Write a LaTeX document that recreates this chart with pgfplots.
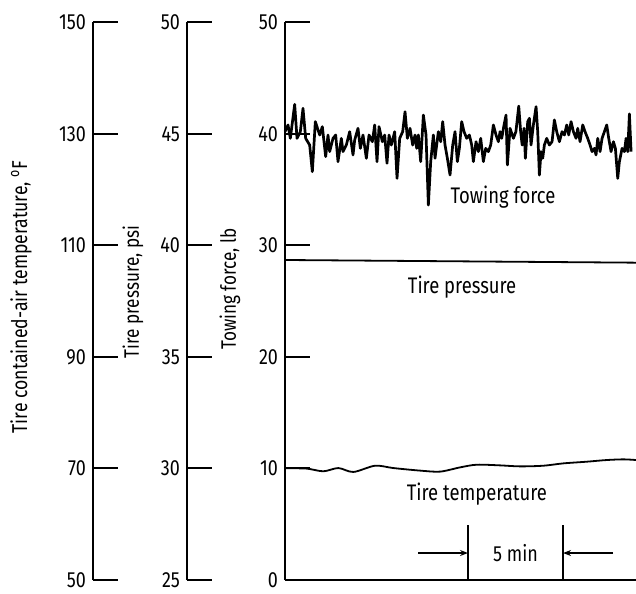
\documentclass[border=0pt]{standalone}
\usepackage{fontspec}
\setmainfont{Fira Sans}[FakeStretch=0.82]
\usepackage{pgfplots}
\pgfplotsset{compat=1.18}
\usetikzlibrary{arrows.meta}

\pgfplotsset{
  scalecol/.style={
    scale only axis,
    height=278.75bp,
    axis y line=left,
    axis line style={-, line width=1.2bp},
    ytick align=inside,
    major tick length=12.5bp,
    every tick/.style={black, line width=1bp},
    yticklabel style={font=\fontsize{11}{11}\selectfont},
    /pgf/number format/assume math mode=true,
    anchor=south west,
  },
}

\begin{document}
\begin{tikzpicture}
\useasboundingbox (0,0) rectangle (318bp,297bp);

% temperature scale
\begin{axis}[scalecol, at={(46.5bp,7bp)}, width=20bp, axis x line=none,
  xmin=0, xmax=1, ymin=50, ymax=150, ytick={50,70,...,150}]
\end{axis}

% pressure scale
\begin{axis}[scalecol, at={(93.5bp,7bp)}, width=20bp, axis x line=none,
  xmin=0, xmax=1, ymin=25, ymax=50, ytick={25,30,...,50}]
\end{axis}

% towing force scale with the traces (time in min)
\begin{axis}[scalecol, at={(142.5bp,7bp)}, width=175.5bp,
  axis x line=bottom, xtick=\empty,
  x axis line style={-}, y axis line style={-},
  xmin=0, xmax=18.47, ymin=0, ymax=50, ytick={0,10,...,50},
  clip=false]

% towing force, lb
\addplot[black, line width=1.35bp, line join=round] coordinates {
(0,40.21) (0.158,40.81) (0.281,39.61) (0.509,42.66) (0.632,39.61) (0.807,40.21)
(0.947,42.30) (1.088,39.61) (1.298,39.01) (1.439,36.62) (1.596,41.11) (1.825,39.91)
(1.965,40.66) (2.140,37.97) (2.263,39.91) (2.351,38.42) (2.526,39.61) (2.667,39.91)
(2.789,37.52) (2.965,39.61) (3.053,38.42) (3.228,39.01) (3.404,40.21) (3.579,38.12)
(3.667,39.46) (3.842,40.51) (3.965,38.71) (4.105,39.91) (4.281,37.82) (4.421,39.91)
(4.596,39.31) (4.719,40.81) (4.842,37.52) (4.947,40.66) (5.123,39.31) (5.246,39.91)
(5.368,37.37) (5.474,39.91) (5.596,39.01) (5.772,40.21) (5.895,36.02) (6.035,39.61)
(6.193,40.21) (6.316,42.00) (6.439,39.61) (6.579,40.51) (6.719,39.01) (6.842,39.91)
(6.930,38.71) (7.018,39.91) (7.140,37.52) (7.281,41.70) (7.421,39.91) (7.544,33.63)
(7.667,37.52) (7.807,39.91) (7.895,37.82) (8.070,40.21) (8.193,39.31) (8.298,41.11)
(8.421,39.01) (8.544,37.82) (8.684,36.32) (8.825,39.01) (8.947,40.21) (9.070,37.52)
(9.175,38.71) (9.298,41.11) (9.421,40.21) (9.561,39.61) (9.702,39.91) (9.825,39.01)
(9.912,37.52) (10.053,39.31) (10.175,38.42) (10.298,39.61) (10.439,37.52) (10.561,38.71)
(10.702,38.42) (10.825,39.01) (10.965,40.81) (11.105,39.91) (11.228,39.31) (11.316,40.21)
(11.404,39.61) (11.526,40.81) (11.632,41.70) (11.702,37.22) (11.842,40.51) (12.018,39.61)
(12.150,40.21) (12.300,42.50) (12.400,40.21) (12.480,39.01) (12.580,40.51) (12.649,37.82)
(12.772,41.11) (12.860,41.41) (12.947,39.01) (13.070,40.81) (13.211,42.45) (13.298,40.21)
(13.386,36.32) (13.474,38.42) (13.561,37.82) (13.649,39.01) (13.772,39.61) (13.912,39.01)
(14.053,39.31) (14.175,41.26) (14.298,40.21) (14.439,39.31) (14.579,40.21) (14.702,39.91)
(14.825,40.81) (14.930,39.91) (15.053,41.11) (15.175,40.21) (15.316,39.61) (15.404,40.51)
(15.526,39.31) (15.667,40.81) (15.789,40.21) (15.930,39.61) (16.053,39.01) (16.158,38.42)
(16.281,38.71) (16.368,38.12) (16.456,39.61) (16.579,38.42) (16.684,39.61) (16.807,40.21)
(16.930,40.81) (17.035,39.61) (17.158,38.42) (17.281,39.31) (17.386,38.71) (17.509,36.02)
(17.596,37.52) (17.737,38.71) (17.860,38.42) (17.947,39.61) (18.035,38.42) (18.123,41.80)
(18.211,38.42)
};

% tire pressure, plotted on the lb scale
\addplot[black, line width=0.9bp] coordinates {(0,28.70) (18.47,28.46)};

% tire temperature, plotted on the lb scale
\addplot[black, line width=0.9bp, smooth, tension=0.5] coordinates {
(0,10.02) (1.14,9.99) (2.02,9.75) (2.81,10.04) (3.60,9.69) (4.74,10.25)
(5.70,10.04) (7.11,9.81) (8.16,9.72) (9.21,10.10) (10.09,10.34) (11.32,10.28)
(12.37,10.19) (13.60,10.25) (14.65,10.46) (15.88,10.61) (16.93,10.76) (17.81,10.82)
(18.47,10.76)
};

\node[font=\fontsize{11.3}{13}\selectfont] at (axis cs:11.47,34.35) {Towing force};
\node[font=\fontsize{11.3}{13}\selectfont] at (axis cs:9.32,26.28) {Tire pressure};
\node[font=\fontsize{11.3}{13}\selectfont] at (axis cs:10.1,7.71) {Tire temperature};

% 5 min marker
\draw[line width=0.8bp] (axis cs:9.63,0) -- (axis cs:9.63,4.93);
\draw[line width=0.8bp] (axis cs:14.63,0) -- (axis cs:14.63,4.93);
\draw[line width=0.8bp, -{Stealth[length=4bp,width=3bp]}] (axis cs:7.0,2.42) -- (axis cs:9.63,2.42);
\draw[line width=0.8bp, -{Stealth[length=4bp,width=3bp]}] (axis cs:17.26,2.42) -- (axis cs:14.63,2.42);
\node[font=\fontsize{11}{13}\selectfont] at (axis cs:12.13,2.42) {5 min};
\end{axis}

% scale titles
\node[rotate=90, font=\fontsize{10.8}{12}\selectfont] at (10.5bp,148.5bp) {Tire contained-air temperature, \textsuperscript{o}F};
\node[rotate=90, font=\fontsize{10.5}{12}\selectfont] at (66.5bp,151bp) {Tire pressure, psi};
\node[rotate=90, font=\fontsize{10.5}{12}\selectfont] at (115bp,152.5bp) {Towing force, lb};
\end{tikzpicture}
\end{document}
